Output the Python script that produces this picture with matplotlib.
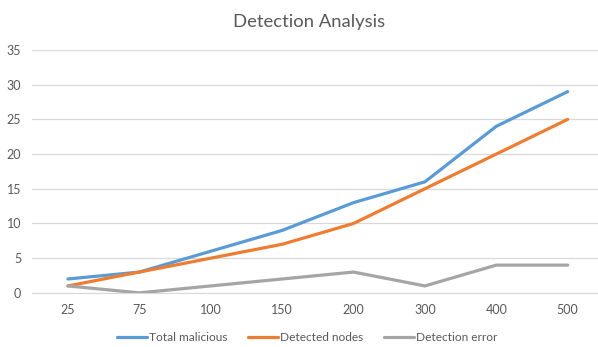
import matplotlib
matplotlib.use("Agg")
import matplotlib.pyplot as plt
import numpy as np

categories = ["25", "75", "100", "150", "200", "300", "400", "500"]
total_malicious = [2, 3, 6, 9, 13, 16, 24, 29]
detected_nodes = [1, 3, 5, 7, 10, 15, 20, 25]
detection_error = [1, 0, 1, 2, 3, 1, 4, 4]

plt.rcParams['font.family'] = ['Lato', 'DejaVu Sans']

fig = plt.figure(figsize=(5.98, 3.47), dpi=100)
ax = fig.add_axes([0.054, 0.156, 0.955, 0.70])

x = np.arange(len(categories))
ax.plot(x, total_malicious, color="#5B9BD5", lw=2.3, label="Total malicious", solid_capstyle="round")
ax.plot(x, detected_nodes, color="#ED7D31", lw=2.3, label="Detected nodes", solid_capstyle="round")
ax.plot(x, detection_error, color="#A5A5A5", lw=2.3, label="Detection error", solid_capstyle="round")

ax.set_xlim(-0.5, len(categories) - 0.5)
ax.set_ylim(0, 35)
ax.set_yticks(np.arange(0, 36, 5))
ax.set_xticks(x)
ax.set_xticklabels(categories)
ax.grid(axis="y", color="#D9D9D9", lw=0.9)
ax.set_axisbelow(True)
for s in ["top", "right", "left"]:
    ax.spines[s].set_visible(False)
ax.spines["bottom"].set_color("#D9D9D9")
ax.tick_params(axis="both", length=0, labelsize=9, colors="#595959", pad=8)
ax.tick_params(axis="y", pad=8)

fig.text(0.517, 0.937, "Detection Analysis", ha="center", va="center", fontsize=13.3, color="#595959")

fig.legend(loc="center", bbox_to_anchor=(0.514, 0.026), ncol=3, frameon=False,
           fontsize=8.6, labelcolor="#595959", handlelength=2.5, columnspacing=1.7, handletextpad=0.2)

fig.savefig("out.png", dpi=100)
